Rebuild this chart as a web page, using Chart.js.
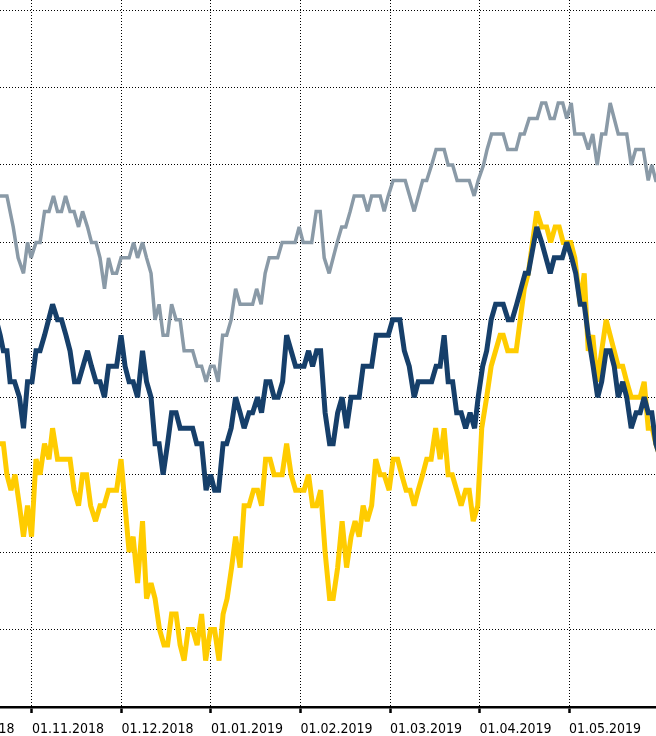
<!DOCTYPE html>
<html>
<head>
<meta charset="utf-8">
<script src="https://cdn.jsdelivr.net/npm/chart.js@4.4.1/dist/chart.umd.min.js"></script>
<style>
    html, body { margin: 0; padding: 0; background: #fff; }
    #wrap { width: 656px; height: 736px; }
</style>
</head>
<body>
<div id="wrap"><canvas id="myChart" width="656" height="736"></canvas></div>
<script>
// x = trading-day index, 0 = 01.10.2018, about 20 days per month
const tickDays = [0, 20, 40, 60, 80, 100, 120, 140];
const tickLabels = ['01.10.2018', '01.11.2018', '01.12.2018', '01.01.2019', '01.02.2019', '01.03.2019', '01.04.2019', '01.05.2019'];
const gridValues = [0, 10, 20, 30, 40, 50, 60, 70, 80, 90];

const greyDays = [12, 12.9, 14.4, 15.8, 16.9, 18.1, 19.0, 19.8, 20.9, 21.8,
    22.8, 23.8, 24.8, 25.7, 26.6, 27.5, 28.5, 29.4, 30.4, 31.3,
    32.4, 33.3, 34.3, 35.2, 36.2, 37.1, 38.0, 38.9, 39.9, 41.7,
    42.7, 43.6, 44.7, 45.6, 46.6, 47.5, 48.4, 49.3, 50.3, 51.2,
    52.2, 53.1, 54.0, 55.9, 56.9, 57.9, 58.9, 59.9, 60.7, 61.6,
    62.6, 63.5, 64.5, 65.5, 66.5, 67.4, 69.3, 70.2, 71.2, 72.1,
    73.0, 74.9, 75.9, 78.8, 79.7, 80.6, 82.5, 83.5, 84.4, 85.3,
    86.4, 87.3, 88.2, 89.2, 90.1, 91.1, 92.0, 94.0, 95.0, 95.9,
    97.8, 98.7, 99.6, 100.7, 103.4, 105.4, 107.3, 108.2, 109.3, 110.3,
    112.1, 113.0, 114.0, 115.0, 117.7, 118.8, 119.7, 120.9, 121.7, 122.7,
    125.3, 126.3, 128.2, 129.1, 130.0, 131.1, 132.9, 133.9, 134.8, 135.8,
    136.7, 137.6, 138.6, 139.5, 140.5, 141.3, 143.2, 144.3, 145.3, 146.3,
    147.3, 148.2, 149.2, 150.1, 151.0, 152.9, 153.9, 154.9, 156.6, 157.7,
    158.5, 159.4, 160.5];
const greyValues = [66, 66, 66, 62, 58, 56, 60, 58, 60, 60,
    64, 64, 66, 64, 64, 66, 64, 64, 62, 64,
    62, 60, 60, 58, 54, 58, 56, 56, 58, 58,
    60, 58, 60, 58, 56, 50, 52, 48, 48, 52,
    50, 50, 46, 46, 44, 44, 42, 44, 44, 42,
    48, 48, 50, 54, 52, 52, 52, 54, 52, 56,
    58, 58, 60, 60, 62, 60, 60, 64, 64, 58,
    56, 58, 60, 62, 62, 64, 66, 66, 64, 66,
    66, 64, 66, 68, 68, 64, 68, 68, 70, 72,
    72, 70, 70, 68, 68, 66, 68, 70, 72, 74,
    74, 72, 72, 74, 74, 76, 76, 78, 78, 76,
    76, 78, 78, 76, 78, 74, 74, 72, 74, 70,
    74, 74, 78, 76, 74, 74, 70, 72, 72, 68,
    70, 68, 68];

const navyDays = [12.0, 12.9, 13.6, 14.4, 15.1, 16.1, 17.2, 18.1, 19.0, 20.0,
    20.9, 21.8, 22.8, 24.6, 25.7, 26.6, 27.6, 28.5, 29.5, 30.4,
    32.4, 33.3, 34.3, 35.2, 36.2, 37.1, 38.9, 39.9, 40.8, 41.7,
    42.6, 43.6, 44.7, 45.6, 46.6, 47.5, 48.4, 49.3, 50.3, 51.2,
    52.2, 53.1, 55.9, 56.8, 57.9, 58.9, 59.9, 60.8, 61.7, 62.7,
    63.5, 64.5, 65.5, 66.5, 67.4, 68.5, 69.3, 70.4, 71.3, 72.3,
    73.2, 74.1, 75.0, 76.0, 76.9, 77.9, 78.9, 80.8, 81.8, 82.7,
    83.6, 84.5, 85.5, 86.5, 87.3, 88.3, 89.3, 90.3, 91.3, 93.1,
    94.0, 95.9, 96.9, 99.6, 100.6, 102.2, 103.2, 104.3, 105.4, 106.3,
    109.3, 110.3, 111.2, 112.1, 113.0, 114.0, 114.9, 115.9, 116.9, 117.9,
    118.9, 119.7, 120.7, 121.6, 122.6, 123.6, 125.3, 126.4, 127.3, 128.3,
    130.2, 130.9, 132.8, 133.9, 135.8, 136.7, 138.5, 139.5, 140.6, 141.5,
    142.5, 143.4, 144.3, 145.4, 146.4, 147.3, 148.3, 149.2, 150.1, 151.0,
    152.0, 152.9, 153.9, 155.0, 155.9, 156.8, 157.7, 158.5, 159.4, 160.5];
const navyValues = [50, 48, 46, 46, 42, 42, 40, 36, 42, 42,
    46, 46, 48, 52, 50, 50, 48, 46, 42, 42,
    46, 44, 42, 42, 40, 44, 44, 48, 44, 42,
    42, 40, 46, 42, 40, 34, 34, 30, 34, 38,
    38, 36, 36, 34, 34, 28, 30, 28, 28, 34,
    34, 36, 40, 38, 36, 38, 38, 40, 38, 42,
    42, 40, 40, 42, 48, 46, 44, 44, 46, 44,
    46, 46, 38, 34, 34, 38, 40, 36, 40, 40,
    44, 44, 48, 48, 50, 50, 46, 44, 40, 42,
    42, 44, 44, 48, 42, 42, 38, 38, 36, 38,
    36, 40, 44, 46, 50, 52, 52, 50, 50, 52,
    56, 56, 62, 60, 56, 58, 58, 60, 58, 56,
    52, 52, 48, 44, 40, 42, 46, 46, 44, 40,
    42, 40, 36, 38, 38, 40, 38, 38, 34, 32];

const yellowDays = [12.0, 12.9, 13.6, 14.4, 15.3, 16.2, 17.2, 18.1, 19.0, 19.9,
    20.9, 21.8, 22.8, 23.8, 24.6, 25.7, 28.5, 29.4, 30.4, 31.3,
    32.2, 33.1, 34.2, 35.2, 36.1, 37.1, 38.9, 39.9, 40.8, 41.7,
    42.6, 43.6, 44.7, 45.6, 46.6, 47.5, 48.5, 49.5, 50.3, 51.2,
    52.2, 53.1, 54.0, 54.9, 55.9, 56.9, 57.9, 58.8, 59.9, 60.8,
    61.8, 62.7, 63.6, 64.6, 65.5, 66.5, 67.4, 68.5, 69.5, 70.4,
    71.3, 72.2, 73.2, 74.1, 75.9, 76.9, 77.9, 78.9, 80.8, 81.8,
    82.7, 83.6, 84.5, 85.5, 86.5, 87.3, 88.3, 89.3, 90.3, 91.3,
    92.2, 93.1, 94.0, 94.9, 95.9, 96.8, 97.8, 98.7, 99.8, 100.7,
    101.7, 102.6, 103.6, 104.5, 105.4, 106.3, 107.3, 108.2, 109.2, 110.2,
    111.2, 112.1, 113.0, 113.9, 114.9, 115.9, 116.9, 117.7, 118.6, 119.6,
    120.5, 121.6, 122.6, 123.6, 124.6, 125.3, 126.3, 128.2, 129.1, 130.0,
    130.9, 132.8, 133.9, 135.0, 135.9, 136.9, 137.8, 138.7, 140.4, 141.3,
    142.5, 143.4, 144.3, 145.3, 146.3, 148.3, 149.2, 150.1, 151.0, 152.0,
    152.9, 153.9, 155.9, 156.8, 157.7, 158.6, 159.4, 160.5];
const yellowValues = [34, 34, 34, 30, 28, 30, 26, 22, 26, 22,
    32, 30, 34, 32, 36, 32, 32, 28, 26, 30,
    30, 26, 24, 26, 26, 28, 28, 32, 26, 20,
    22, 16, 24, 14, 16, 14, 10, 8, 8, 12,
    12, 8, 6, 10, 10, 8, 12, 6, 10, 10,
    6, 12, 14, 18, 22, 18, 26, 26, 28, 28,
    26, 32, 32, 30, 30, 34, 30, 28, 28, 30,
    26, 26, 28, 20, 14, 14, 18, 24, 18, 22,
    24, 22, 26, 24, 26, 32, 30, 30, 28, 32,
    32, 30, 28, 28, 26, 28, 30, 32, 32, 36,
    32, 36, 30, 30, 28, 26, 28, 28, 24, 26,
    36, 40, 44, 46, 48, 48, 46, 46, 50, 54,
    56, 64, 62, 62, 60, 62, 62, 60, 60, 58,
    52, 56, 46, 48, 42, 50, 48, 46, 44, 44,
    42, 40, 40, 42, 36, 36, 34, 32];

function toPoints(days, values) {
    return days.map((d, i) => ({ x: d, y: values[i] }));
}

// lower miter limit so the sharp spikes do not grow long tips
const miterPlugin = {
    id: 'miter',
    beforeDatasetsDraw(chart) {
        chart.ctx.miterLimit = 3;
    }
};

const labelFont = "'Liberation Sans Narrow', 'DejaVu Sans Condensed', Roboto, sans-serif";

var ctx = document.getElementById('myChart').getContext('2d');

var myChart = new Chart(ctx, {
    type: 'line',
    data: {
        datasets: [{
            data: toPoints(greyDays, greyValues),
            borderColor: '#8a9aa7',
            borderWidth: 3.5
        }, {
            data: toPoints(navyDays, navyValues),
            borderColor: '#163f6a',
            borderWidth: 5
        }, {
            data: toPoints(yellowDays, yellowValues),
            borderColor: '#ffcc00',
            borderWidth: 5
        }]
    },
    options: {
        responsive: false,
        animation: false,
        layout: { padding: 0 },
        elements: {
            point: { radius: 0, hoverRadius: 0 },
            line: { tension: 0, fill: false }
        },
        plugins: {
            legend: { display: false },
            tooltip: { enabled: false }
        },
        scales: {
            x: {
                type: 'linear',
                min: 12.85,
                max: 159.44,
                afterBuildTicks: (scale) => {
                    scale.ticks = tickDays.map(v => ({ value: v }));
                },
                afterFit: (scale) => {
                    scale.height = 29;
                    scale.paddingLeft = 0;
                    scale.paddingRight = 0;
                },
                ticks: {
                    autoSkip: false,
                    maxRotation: 0,
                    align: 'start',
                    padding: 8,
                    color: '#000',
                    font: { family: labelFont, size: 14 },
                    callback: (value, index) => tickLabels[index]
                },
                grid: {
                    color: '#000',
                    lineWidth: 1,
                    tickLength: 6,
                    tickWidth: 2.5,
                    tickColor: '#000',
                    tickBorderDash: []
                },
                border: {
                    display: true,
                    color: '#000',
                    width: 2.5,
                    dash: [1, 2]
                }
            },
            y: {
                min: 0,
                max: 91.3,
                afterBuildTicks: (scale) => {
                    scale.ticks = gridValues.map(v => ({ value: v }));
                },
                afterFit: (scale) => {
                    scale.width = 0;
                },
                ticks: { display: false },
                grid: {
                    color: '#000',
                    lineWidth: 1,
                    drawTicks: false
                },
                border: {
                    display: false,
                    dash: [1, 2]
                }
            }
        }
    },
    plugins: [miterPlugin]
});
</script>
</body>
</html>
